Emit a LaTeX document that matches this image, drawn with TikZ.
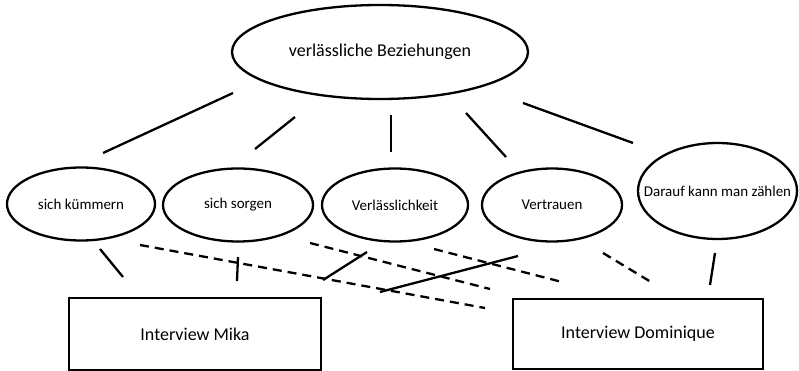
\documentclass[tikz,border=0pt]{standalone}
\usepackage{fontspec}
\setmainfont{Carlito}
\usetikzlibrary{shapes.geometric}
\begin{document}
\begin{tikzpicture}[x=1pt,y=-1pt,
  oval/.style={draw, ellipse, line width=2.3pt, inner sep=0pt, font=\fontsize{15}{17}\selectfont},
  bigoval/.style={oval, font=\fontsize{18}{20}\selectfont},
  box/.style={draw, rectangle, line width=2.3pt, inner sep=0pt, font=\fontsize{18}{20}\selectfont},
  link/.style={line width=2.3pt},
  dlink/.style={line width=2.3pt, dash pattern=on 9pt off 6pt}]
\useasboundingbox (0,0) rectangle (799,371);
% nodes
\node[bigoval, minimum width=296pt, minimum height=94pt] (top) at (380,52) {verlässliche Beziehungen};
\node[oval, minimum width=148pt, minimum height=73pt] (kuem) at (81,204) {sich kümmern};
\node[oval, minimum width=150pt, minimum height=73pt] (sorg) at (238,205) {sich sorgen};
\node[oval, minimum width=146pt, minimum height=73pt] (verl) at (395,205) {Verlässlichkeit};
\node[oval, minimum width=140pt, minimum height=73pt] (vert) at (552,205) {Vertrauen};
\node[oval, minimum width=159pt, minimum height=96pt,
      label={[font=\fontsize{15}{17}\selectfont]center:Darauf kann man zählen}] (dara) at (717.5,191) {};
\node[box, minimum width=252pt, minimum height=72pt] (mika) at (195,334) {Interview Mika};
\node[box, minimum width=250pt, minimum height=70pt] (domi) at (638,334) {Interview Dominique};
% free segment ends
\coordinate (t1a) at (233,93);  \coordinate (t1b) at (103,153);
\coordinate (t2a) at (295,117); \coordinate (t2b) at (255,149);
\coordinate (t3a) at (391,115); \coordinate (t3b) at (391,152);
\coordinate (t4a) at (466,113); \coordinate (t4b) at (506,157);
\coordinate (t5a) at (523,103); \coordinate (t5b) at (633,143);
\coordinate (m1a) at (100,249); \coordinate (m1b) at (123,277);
\coordinate (m2a) at (238,257); \coordinate (m2b) at (237,281);
\coordinate (d1a) at (140,245); \coordinate (d1b) at (485,308);
\coordinate (d2a) at (310,243); \coordinate (d2b) at (490,289);
\coordinate (d3a) at (434,249); \coordinate (d3b) at (562,282);
\coordinate (d4a) at (603,253); \coordinate (d4b) at (651,282);
\coordinate (s1a) at (367,252); \coordinate (s1b) at (323,280);
\coordinate (s2a) at (518,256); \coordinate (s2b) at (380,292);
\coordinate (r1a) at (715,253); \coordinate (r1b) at (710,285);
% solid connectors
\draw[link] (t1a) -- (t1b);
\draw[link] (t2a) -- (t2b);
\draw[link] (t3a) -- (t3b);
\draw[link] (t4a) -- (t4b);
\draw[link] (t5a) -- (t5b);
\draw[link] (m1a) -- (m1b);
\draw[link] (m2a) -- (m2b);
\draw[link] (s1a) -- (s1b);
\draw[link] (s2a) -- (s2b);
\draw[link] (r1a) -- (r1b);
% dashed connectors
\draw[dlink] (d1a) -- (d1b);
\draw[dlink] (d2a) -- (d2b);
\draw[dlink] (d3a) -- (d3b);
\draw[dlink] (d4a) -- (d4b);
\end{tikzpicture}
\end{document}
